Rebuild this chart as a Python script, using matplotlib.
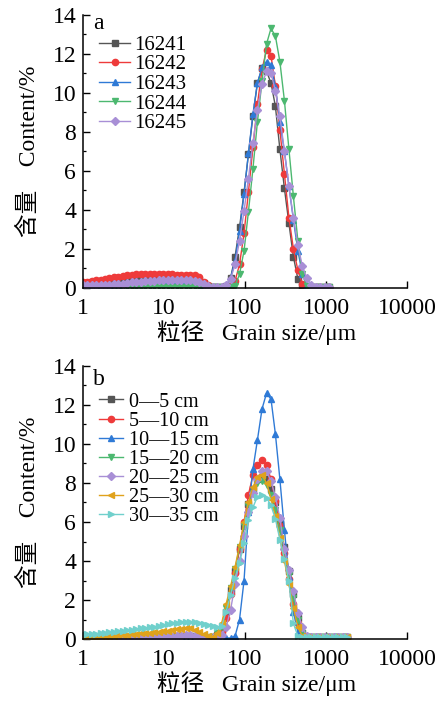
import matplotlib
matplotlib.use("Agg")
import matplotlib.pyplot as plt
from matplotlib.ticker import MultipleLocator, LogLocator, NullFormatter, FixedFormatter, FixedLocator

plt.rcParams["font.family"] = ["Liberation Serif", "Noto Sans CJK SC"]

# grain size classes (um)
size_b = [1.00, 1.12, 1.27, 1.44, 1.64, 1.86, 2.11, 2.40, 2.73, 3.10,
          3.52, 4.00, 4.54, 5.16, 5.86, 6.66, 7.56, 8.59, 9.76, 11.1,
          12.6, 14.3, 16.3, 18.5, 21.0, 23.9, 27.1, 30.8, 35.0, 39.8,
          45.2, 51.3, 58.3, 66.2, 75.2, 85.4, 97.1, 110, 125, 142,
          162, 184, 209, 237, 269, 306, 348, 395, 449, 510,
          579, 658, 748, 849, 965, 1100, 1250, 1420, 1610, 1830]
size_a = size_b[:56]

# panel a: samples
labels_a = ["16241", "16242", "16243", "16244", "16245"]
s16241 = [0.25, 0.26, 0.28, 0.30, 0.33, 0.36, 0.39, 0.42, 0.45, 0.48,
          0.50, 0.52, 0.54, 0.55, 0.56, 0.56, 0.56, 0.56, 0.55, 0.55,
          0.55, 0.55, 0.55, 0.54, 0.53, 0.50, 0.42, 0.25, 0.10, 0.05,
          0.05, 0.05, 0.08, 0.5, 1.6, 3.1, 4.9, 6.85, 8.8, 10.5,
          11.25, 11.1, 10.5, 9.3, 7.1, 5.1, 3.3, 1.6, 0.45, 0.08,
          0.05, 0.05, 0.05, 0.05, 0.05, 0.05]
s16242 = [0.30, 0.32, 0.35, 0.38, 0.42, 0.46, 0.50, 0.54, 0.58, 0.62,
          0.65, 0.68, 0.70, 0.72, 0.73, 0.73, 0.73, 0.72, 0.71, 0.70,
          0.69, 0.68, 0.68, 0.68, 0.67, 0.64, 0.55, 0.32, 0.12, 0.05,
          0.05, 0.05, 0.05, 0.1, 0.35, 1.2, 2.8, 4.9, 7.2, 9.4,
          11.2, 12.2, 11.9, 10.35, 8.1, 5.85, 3.6, 2.0, 0.9, 0.2,
          0.05, 0.05, 0.05, 0.05, 0.05, 0.05]
s16243 = [0.15, 0.15, 0.15, 0.15, 0.15, 0.15, 0.15, 0.16, 0.17, 0.18,
          0.19, 0.20, 0.21, 0.22, 0.23, 0.24, 0.25, 0.26, 0.27, 0.28,
          0.29, 0.30, 0.30, 0.30, 0.29, 0.26, 0.20, 0.12, 0.06, 0.03,
          0.03, 0.03, 0.1, 0.5, 1.4, 2.9, 4.8, 6.9, 8.9, 10.5,
          11.3, 11.6, 11.4, 10.3, 8.5, 7.0, 5.2, 3.5, 1.9, 0.7,
          0.15, 0.03, 0.03, 0.03, 0.03, 0.03]
s16244 = [0.05] * 34 + [0.1, 0.7, 1.9, 3.9, 6.1, 8.5,
                        10.6, 12.5, 13.3, 12.9, 11.6, 9.6, 7.1, 4.7, 2.4, 0.7,
                        0.1, 0.05, 0.05, 0.05, 0.05, 0.05]
s16245 = [0.12, 0.12, 0.12, 0.13, 0.14, 0.15, 0.16, 0.18, 0.20, 0.22,
          0.25, 0.28, 0.30, 0.32, 0.34, 0.36, 0.37, 0.38, 0.39, 0.40,
          0.40, 0.40, 0.41, 0.41, 0.40, 0.37, 0.30, 0.18, 0.08, 0.04,
          0.03, 0.03, 0.15, 0.45, 1.2, 2.4, 3.95, 5.6, 7.45, 9.1,
          10.45, 11.1, 11.0, 10.1, 8.8, 7.0, 5.2, 3.6, 2.2, 1.1,
          0.5, 0.15, 0.05, 0.05, 0.05, 0.05]

# panel b: depth layers
labels_b = ["0\u20145 cm", "5\u201410 cm", "10\u201415 cm", "15\u201420 cm",
            "20\u201425 cm", "25\u201430 cm", "30\u201435 cm"]
d0_5 = [0.10] * 20 + [0.12, 0.14, 0.16, 0.18, 0.18, 0.16, 0.12, 0.08, 0.06, 0.08,
                      0.2, 0.5, 1.4, 2.5, 3.5, 4.6, 5.8, 6.9, 7.7, 8.2,
                      8.3, 8.2, 7.7, 7.0, 5.9, 4.7, 3.5, 2.3, 1.1, 0.3] + [0.1] * 10
d5_10 = [0.10] * 20 + [0.12, 0.14, 0.15, 0.16, 0.15, 0.12, 0.08, 0.05, 0.05, 0.08,
                       0.2, 0.35, 1.1, 2.3, 3.4, 4.6, 6.0, 7.4, 8.4, 8.9,
                       9.2, 8.9, 8.2, 7.1, 5.8, 4.4, 3.1, 1.8, 0.8, 0.2] + [0.1] * 10
d10_15 = [0.05] * 34 + [0.15, 1.0, 3.0, 6.5, 8.7, 10.2,
                        11.8, 12.6, 12.3, 10.5, 8.2, 5.6, 3.2, 1.4, 0.35, 0.1] + [0.1] * 10
d15_20 = [0.12] * 28 + [0.10, 0.12,
                        0.3, 0.6, 1.6, 2.6, 3.6, 4.7, 5.8, 6.8, 7.5, 8.0,
                        8.1, 7.9, 7.4, 6.6, 5.6, 4.5, 3.3, 2.1, 1.0, 0.3] + [0.1] * 10
d20_25 = [0.08] * 18 + [0.09, 0.10,
                        0.12, 0.15, 0.18, 0.20, 0.20, 0.17, 0.12, 0.08, 0.06, 0.06,
                        0.1, 0.2, 0.6, 1.5, 2.8, 4.0, 5.3, 6.5, 7.5, 8.2,
                        8.6, 8.6, 8.1, 7.3, 6.2, 4.6, 3.55, 2.45, 1.35, 0.6,
                        0.15] + [0.1] * 9
d25_30 = [0.10, 0.10, 0.11, 0.12, 0.13, 0.14, 0.15, 0.17, 0.19, 0.21,
          0.23, 0.25, 0.27, 0.29, 0.31, 0.33, 0.35, 0.37, 0.40, 0.43,
          0.46, 0.50, 0.53, 0.55, 0.54, 0.48, 0.38, 0.25, 0.15, 0.12,
          0.3, 0.8, 1.8, 2.7, 3.7, 4.8, 6.0, 7.0, 7.8, 8.3,
          8.4, 8.0, 7.2, 6.3, 5.2, 4.0, 2.8, 1.6, 0.6, 0.15] + [0.1] * 10
d30_35 = [0.25, 0.26, 0.27, 0.28, 0.30, 0.32, 0.34, 0.36, 0.39, 0.42,
          0.45, 0.48, 0.51, 0.54, 0.57, 0.60, 0.63, 0.67, 0.71, 0.75,
          0.80, 0.84, 0.87, 0.89, 0.89, 0.87, 0.83, 0.77, 0.72, 0.66,
          0.62, 0.65, 1.4, 2.25, 3.15, 3.9, 4.9, 6.1, 6.75, 7.3,
          7.4, 7.25, 6.85, 6.15, 5.1, 4.1, 2.95, 0.8, 0.15, 0.1] + [0.1] * 10

colors = ["#555555", "#ee3b3b", "#2f7ad6", "#4cb870", "#a88fd6", "#e0a21c", "#70d0cc"]
markers = ["s", "o", "^", "v", "D", "<", ">"]
msizes = [4, 4.5, 4.5, 4.5, 3.8, 4.5, 4.5]

FS = 17


def style_axis(ax, letter, letter_y):
    ax.set_xscale("log")
    ax.set_xlim(1, 10000)
    ax.set_ylim(0, 14)
    ax.spines["top"].set_visible(False)
    ax.spines["right"].set_visible(False)
    for s in ("left", "bottom"):
        ax.spines[s].set_linewidth(1.1)
    ax.yaxis.set_major_locator(MultipleLocator(2))
    ax.yaxis.set_minor_locator(MultipleLocator(1))
    ax.xaxis.set_major_locator(FixedLocator([1, 10, 100, 1000, 10000]))
    ax.xaxis.set_major_formatter(FixedFormatter(["1", "10", "100", "1000", "10000"]))
    ax.xaxis.set_minor_locator(LogLocator(base=10, subs=range(2, 10)))
    ax.xaxis.set_minor_formatter(NullFormatter())
    ax.tick_params(which="major", direction="in", length=5, width=1, labelsize=FS)
    ax.tick_params(which="minor", direction="in", length=2.5, width=0.9)
    ax.tick_params(axis="x", pad=7)
    ax.tick_params(axis="y", pad=5)
    ax.set_ylabel("含量    Content/%", fontsize=FS)
    ax.yaxis.set_label_coords(-0.168, 0.5)
    ax.yaxis.label.set_va("center")
    ax.set_xlabel("粒径   Grain size/\u03bcm", fontsize=FS)
    ax.xaxis.set_label_coords(0.534, -0.163)
    ax.xaxis.label.set_va("center")
    ax.text(0.03, letter_y, letter, transform=ax.transAxes, fontsize=FS,
            ha="left", va="center")


fig = plt.figure(figsize=(4.4, 7.02), dpi=100)
ax_a = fig.add_axes([0.189, 0.590, 0.736, 0.389])
ax_b = fig.add_axes([0.189, 0.0897, 0.736, 0.389])

series_a = [s16241, s16242, s16243, s16244, s16245]
for i, (lab, vals) in enumerate(zip(labels_a, series_a)):
    ax_a.plot(size_a, vals, color=colors[i], marker=markers[i], ms=msizes[i],
              lw=1.0, label=lab)

series_b = [d0_5, d5_10, d10_15, d15_20, d20_25, d25_30, d30_35]
for i, (lab, vals) in enumerate(zip(labels_b, series_b)):
    ax_b.plot(size_b, vals, color=colors[i], marker=markers[i], ms=msizes[i],
              lw=1.0, label=lab)

style_axis(ax_a, "a", 0.967)
style_axis(ax_b, "b", 0.949)

ax_a.legend(loc="upper left", bbox_to_anchor=(0.049, 0.925), frameon=False,
            fontsize=15, handlelength=1.5, handletextpad=0.2,
            labelspacing=0.0, borderpad=0, borderaxespad=0)
ax_b.legend(loc="upper left", bbox_to_anchor=(0.049, 0.903), frameon=False,
            fontsize=14.5, handlelength=1.2, handletextpad=0.3,
            labelspacing=0.0, borderpad=0, borderaxespad=0)

fig.savefig("out.png", dpi=100)
